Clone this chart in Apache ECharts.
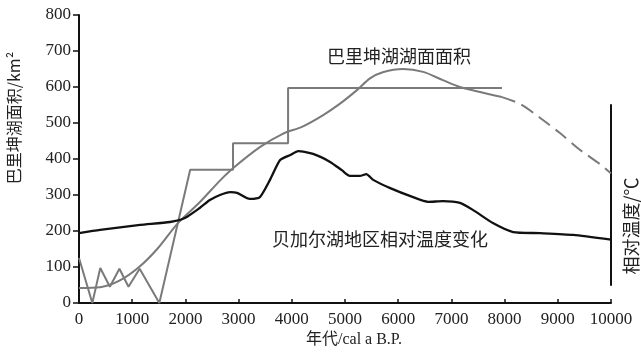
<!DOCTYPE html>
<html>
<head>
<meta charset="utf-8">
<script src="https://cdn.jsdelivr.net/npm/echarts@6/dist/echarts.min.js"></script>
<style>
  html, body { margin: 0; padding: 0; background: #fff; }
  #chart { width: 641px; height: 353px; }
</style>
</head>
<body>
<div id="chart"></div>
<script>
// Ages in cal a B.P.
const xTicks = [0, 1000, 2000, 3000, 4000, 5000, 6000, 7000, 8000, 9000, 10000];
const yTicks = [0, 100, 200, 300, 400, 500, 600, 700, 800];

// Reconstructed lake-area steps (km²) vs age
const stepAges   = [0, 250, 400, 580, 760, 930, 1140, 1510, 2090, 2895, 2895, 3930, 3930, 7950];
const stepAreas  = [125, 0, 97, 45, 95, 45, 95, 0, 370, 370, 444, 444, 597, 597];

// Smoothed lake-area trend, solid part
const trendAges  = [0, 400, 760, 1130, 1470, 1860, 2270, 2650, 2900, 3400, 3830, 4200, 4590, 4900, 5230, 5470, 5710, 6090, 6470, 6840, 7160, 7950];
const trendAreas = [42, 44, 62, 100, 150, 222, 280, 340, 375, 433, 470, 490, 522, 553, 592, 624, 641, 650, 642, 619, 600, 572];

// Smoothed lake-area trend, inferred (dashed) part
const inferAges  = [7950, 8290, 8670, 9040, 9420, 9800, 10000];
const inferAreas = [572, 553, 514, 472, 425, 385, 360];

// Relative temperature of the Baikal region (plotted on the area scale)
const tempAges = [0, 395, 1150, 1710, 1990, 2270, 2460, 2650, 2840, 2970, 3210, 3400, 3590, 3780, 3970, 4120, 4400, 4720, 4940, 5090, 5280, 5400, 5530, 5850, 6280, 6560, 6840, 7160, 7410, 7780, 8160, 8670, 9290, 10000];
const tempVals = [194, 203, 217, 225, 236, 264, 286, 300, 308, 306, 289, 294, 342, 397, 411, 422, 414, 392, 369, 353, 353, 358, 342, 319, 294, 281, 283, 278, 258, 222, 197, 194, 189, 176];

const zip = (a, b) => a.map((v, i) => [v, b[i]]);

const serif = '"Liberation Serif", serif';
const cjk = '"Noto Sans CJK SC", sans-serif';
const gray = '#7a7a7a';

const chart = echarts.init(document.getElementById('chart'), null, { renderer: 'canvas' });

chart.setOption({
  animation: false,
  backgroundColor: '#fff',
  grid: [
    { left: 79, right: 30, top: 15, bottom: 50 },
    { left: 611, width: 1, top: 105, bottom: 68 }
  ],
  xAxis: [
    {
      type: 'value', gridIndex: 0, min: xTicks[0], max: xTicks[xTicks.length - 1], interval: 1000,
      axisLine: { show: true, lineStyle: { color: '#111', width: 2 } },
      axisTick: { show: true, inside: true, length: 4, lineStyle: { color: '#111', width: 1.5 } },
      axisLabel: { color: '#222', fontFamily: serif, fontSize: 17, margin: 8, formatter: v => String(v) },
      splitLine: { show: false }
    },
    { type: 'value', gridIndex: 1, show: false, min: 0, max: 1 }
  ],
  yAxis: [
    {
      type: 'value', gridIndex: 0, min: yTicks[0], max: yTicks[yTicks.length - 1], interval: 100,
      axisLine: { show: true, lineStyle: { color: '#111', width: 2 } },
      axisTick: { show: true, inside: false, length: 6, lineStyle: { color: '#111', width: 1.5 } },
      axisLabel: { color: '#222', fontFamily: serif, fontSize: 17, margin: 8, formatter: v => String(v) },
      splitLine: { show: false }
    },
    {
      type: 'value', gridIndex: 1, min: 0, max: 1, position: 'left',
      axisLine: { show: true, lineStyle: { color: '#111', width: 2 } },
      axisTick: { show: false }, axisLabel: { show: false }, splitLine: { show: false }
    }
  ],
  series: [
    {
      name: '湖面面积阶段', type: 'line', data: zip(stepAges, stepAreas),
      showSymbol: false, smooth: false,
      lineStyle: { color: gray, width: 2 }
    },
    {
      name: '巴里坤湖湖面面积', type: 'line', data: zip(trendAges, trendAreas),
      showSymbol: false, smooth: 0.3,
      lineStyle: { color: gray, width: 2 }
    },
    {
      name: '巴里坤湖湖面面积(推测)', type: 'line', data: zip(inferAges, inferAreas),
      showSymbol: false, smooth: 0.3,
      lineStyle: { color: gray, width: 2, type: [14, 7] }
    },
    {
      name: '贝加尔湖地区相对温度变化', type: 'line', data: zip(tempAges, tempVals),
      showSymbol: false, smooth: 0.2,
      lineStyle: { color: '#111', width: 2.3 }
    }
  ],
  graphic: [
    { type: 'text', left: 327, top: 47, style: { text: '巴里坤湖湖面面积', font: '18px ' + cjk, fill: '#222' } },
    { type: 'text', left: 272, top: 230, style: { text: '贝加尔湖地区相对温度变化', font: '18px ' + cjk, fill: '#222' } },
    { type: 'text', x: 354, y: 340, style: { text: '年代/cal a B.P.', font: '16px "Liberation Serif", "Noto Sans CJK SC"', fill: '#222', align: 'center', verticalAlign: 'middle' } },
    { type: 'text', x: 14, y: 118, rotation: Math.PI / 2, style: { text: '巴里坤湖面积/km²', font: '16px ' + cjk, fill: '#222', align: 'center', verticalAlign: 'middle' } },
    { type: 'text', x: 631, y: 226, rotation: Math.PI / 2, style: { text: '相对温度/℃', font: '18px ' + cjk, fill: '#222', align: 'center', verticalAlign: 'middle' } }
  ]
});
</script>
</body>
</html>
